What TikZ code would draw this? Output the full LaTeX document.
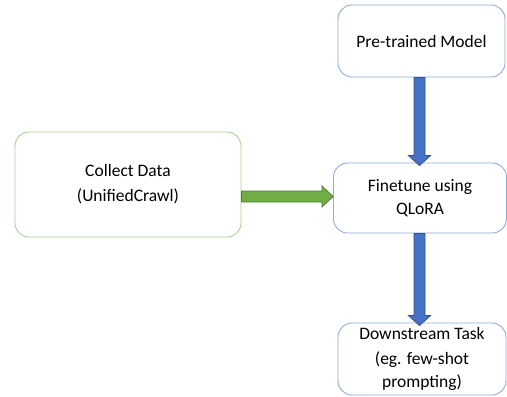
\documentclass[tikz,border=0pt]{standalone}
\usepackage{fontspec}
\setmainfont{Carlito}
\usetikzlibrary{calc}
\definecolor{boxblue}{HTML}{8FAADC}
\definecolor{boxgreen}{HTML}{A9D18E}
\definecolor{arrblue}{HTML}{4472C4}
\definecolor{arrblueline}{HTML}{2F528F}
\definecolor{arrgreen}{HTML}{70AD47}
\definecolor{arrgreenline}{HTML}{507E32}
\tikzset{
  stepbox/.style={draw, line width=0.9pt, rounded corners=14pt, fill=white, align=center,
    inner sep=0pt, font=\fontsize{17.5}{24.5}\selectfont},
  bluebox/.style={stepbox, draw=boxblue},
  greenbox/.style={stepbox, draw=boxgreen},
  blockarrow/.style={line width=0.8pt, line join=miter}
}
\begin{document}
\begin{tikzpicture}[x=1pt,y=-1pt]
\useasboundingbox (0,0) rectangle (507,397);
\node[bluebox, minimum width=167pt, minimum height=72pt] (pre) at (421.5,41) {\raisebox{-2pt}{Pre-trained Model}};
\node[greenbox, minimum width=226pt, minimum height=105pt, font=\fontsize{17.5}{27}\selectfont] (col) at (128,184.5) {\raisebox{-2pt}{Collect Data}\\(UnifiedCrawl)};
\node[bluebox, minimum width=173pt, minimum height=70pt, font=\fontsize{17.5}{22.5}\selectfont] (fin) at (420,198) {Finetune using\\QLoRA};
\node[bluebox, minimum width=168pt, minimum height=72pt, font=\fontsize{17.5}{25}\selectfont] (down) at (422,359) {\raisebox{-2pt}{Downstream Task}\\\raisebox{-2pt}{(eg. few-shot}\\prompting)};
% blue arrow pre -> fin
\path let \p1=(pre.south), \p2=(fin.north) in
  coordinate (a1) at (419.5,\y1)
  coordinate (b1) at (419.5,\y2-3);
\filldraw[blockarrow, fill=arrblue, draw=arrblueline]
  ($(a1)+(-5.5,0)$) -- ($(b1)+(-5.5,-10)$) -- ($(b1)+(-11,-10)$) -- (b1) -- ($(b1)+(11,-10)$) -- ($(b1)+(5.5,-10)$) -- ($(a1)+(5.5,0)$) -- cycle;
% blue arrow fin -> down
\path let \p1=(fin.south), \p2=(down.north) in
  coordinate (a2) at (419.5,\y1)
  coordinate (b2) at (419.5,\y2-3);
\filldraw[blockarrow, fill=arrblue, draw=arrblueline]
  ($(a2)+(-5.5,0)$) -- ($(b2)+(-5.5,-10)$) -- ($(b2)+(-11,-10)$) -- (b2) -- ($(b2)+(11,-10)$) -- ($(b2)+(5.5,-10)$) -- ($(a2)+(5.5,0)$) -- cycle;
% green arrow col -> fin
\path let \p1=(col.east), \p2=(fin.west) in
  coordinate (a3) at (\x1,196.5)
  coordinate (b3) at (\x2,196.5);
\filldraw[blockarrow, fill=arrgreen, draw=arrgreenline]
  ($(a3)+(0,-5.5)$) -- ($(b3)+(-11,-5.5)$) -- ($(b3)+(-11,-10.5)$) -- (b3) -- ($(b3)+(-11,10.5)$) -- ($(b3)+(-11,5.5)$) -- ($(a3)+(0,5.5)$) -- cycle;
\end{tikzpicture}
\end{document}
